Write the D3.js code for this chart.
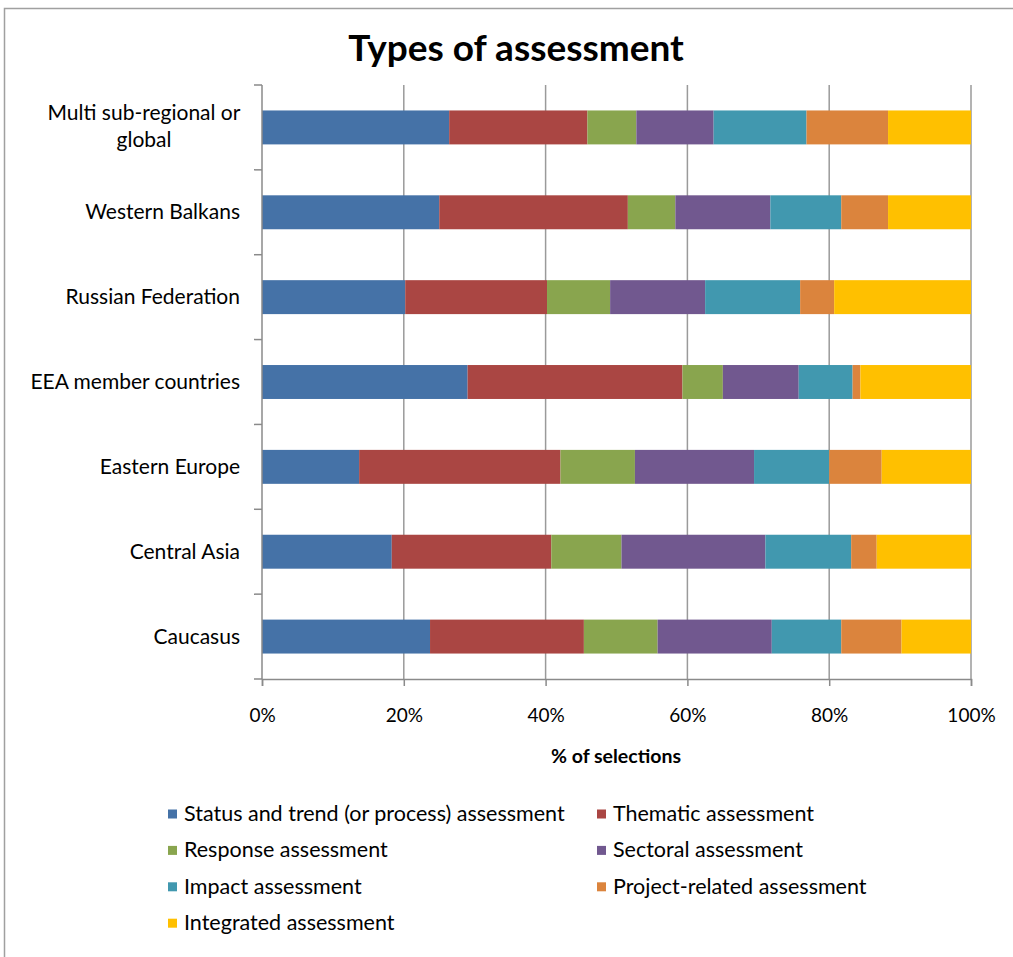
<!DOCTYPE html>
<html><head><meta charset="utf-8">
<script src="https://cdn.jsdelivr.net/npm/d3@7"></script>
<style>body{margin:0;background:#fff}svg{display:block}text{font-family:Lato,"Open Sans",sans-serif;fill:#000}</style>
</head><body><svg id="c" width="1013" height="957"></svg>
<script>
const categories = ["Multi sub-regional or global","Western Balkans","Russian Federation","EEA member countries","Eastern Europe","Central Asia","Caucasus"];
const seriesNames = ["Status and trend (or process) assessment","Thematic assessment","Response assessment","Sectoral assessment","Impact assessment","Project-related assessment","Integrated assessment"];
const statusTrend = [26.4,25.0,20.2,29.0,13.7,18.3,23.7];
const thematic    = [19.5,26.6,20.0,30.3,28.4,22.5,21.7];
const response    = [6.9,6.7,8.9,5.7,10.5,9.9,10.4];
const sectoral    = [10.9,13.4,13.4,10.7,16.8,20.3,16.1];
const impact      = [13.1,10.0,13.4,7.6,10.6,12.1,9.8];
const project     = [11.5,6.6,4.8,1.1,7.4,3.6,8.5];
const integrated  = [11.7,11.7,19.3,15.6,12.6,13.3,9.8];
const tickValues = [0,0.2,0.4,0.6,0.8,1.0];
const colors = ["#4572A7","#AA4643","#89A54E","#71588F","#4198AF","#DB843D","#FFC000"];

const seriesVals = [statusTrend,thematic,response,sectoral,impact,project,integrated];
const rows = categories.map((c,i)=>{const o={cat:c};seriesNames.forEach((s,j)=>o[s]=seriesVals[j][i]);return o;});
rows.forEach(r=>{const t=d3.sum(seriesNames,s=>r[s]);seriesNames.forEach(s=>r[s]=r[s]/t);});
const stack = d3.stack().keys(seriesNames)(rows);

const svg = d3.select("#c");
svg.append("rect").attr("x",4.5).attr("y",8.5).attr("width",1100).attr("height",1100)
  .attr("fill","none").attr("stroke","#a0a0a0").attr("stroke-width",1.5);

const x = d3.scaleLinear().domain([0,1]).range([262,971]);
const y = d3.scaleBand().domain(categories).range([85,679]).paddingInner(0.6).paddingOuter(0.3);
const yb = d3.scaleBand().domain(categories).range([85,679]);

svg.append("text").attr("x",516).attr("y",61).attr("text-anchor","middle")
  .style("font-size","37px").style("font-weight","bold").text("Types of assessment");

svg.append("g").selectAll("line").data(tickValues.slice(1)).join("line")
  .attr("x1",d=>x(d)).attr("x2",d=>x(d)).attr("y1",85).attr("y2",679)
  .attr("stroke","#9a9a9a").attr("stroke-width",1.5);

svg.append("g").selectAll("g").data(stack).join("g").attr("fill",(d,i)=>colors[i])
  .selectAll("rect").data(d=>d).join("rect")
  .attr("x",d=>x(d[0])).attr("width",d=>x(d[1])-x(d[0]))
  .attr("y",d=>y(d.data.cat)).attr("height",y.bandwidth());

const xAxis = d3.axisBottom(x).tickValues(tickValues).tickFormat(d3.format(".0%")).tickSize(7).tickPadding(23);
const gx = svg.append("g").attr("transform","translate(0,679)").call(xAxis);
gx.select(".domain").attr("stroke","#8a8a8a").attr("stroke-width",1.5);
gx.selectAll(".tick line").attr("stroke","#8a8a8a").attr("stroke-width",1.5);
gx.selectAll("text").style("font-size","19px").style("font-family","Lato").attr("fill","#000");

const bounds = categories.map(c=>yb(c)).concat([679]);
svg.append("g").selectAll("line").data(bounds).join("line")
  .attr("x1",254).attr("x2",262).attr("y1",d=>d).attr("y2",d=>d)
  .attr("stroke","#8a8a8a").attr("stroke-width",1.5);
svg.append("line").attr("x1",262).attr("x2",262).attr("y1",85).attr("y2",679)
  .attr("stroke","#8a8a8a").attr("stroke-width",1.5);

const lab = svg.append("g");
categories.forEach(c=>{
  const cy = yb(c)+yb.bandwidth()/2;
  if(c.startsWith("Multi")){
    lab.append("text").attr("x",144).attr("y",cy-7).attr("text-anchor","middle").style("font-size","21px").text("Multi sub-regional or");
    lab.append("text").attr("x",144).attr("y",cy+20).attr("text-anchor","middle").style("font-size","21px").text("global");
  } else {
    lab.append("text").attr("x",240).attr("y",cy+7).attr("text-anchor","end").style("font-size","21px").text(c);
  }
});

svg.append("text").attr("x",616).attr("y",763).attr("text-anchor","middle")
  .style("font-size","19.5px").style("font-weight","bold").text("% of selections");

const lg = svg.append("g");
seriesNames.forEach((s,i)=>{
  const col=i%2,row=Math.floor(i/2);
  const lx = col===0?168:597, ly = 814+row*36.4;
  lg.append("rect").attr("x",lx).attr("y",ly-4.5).attr("width",9).attr("height",9).attr("fill",colors[i]);
  lg.append("text").attr("x",lx+16).attr("y",ly+7).style("font-size","21.5px").text(s);
});
</script></body></html>
